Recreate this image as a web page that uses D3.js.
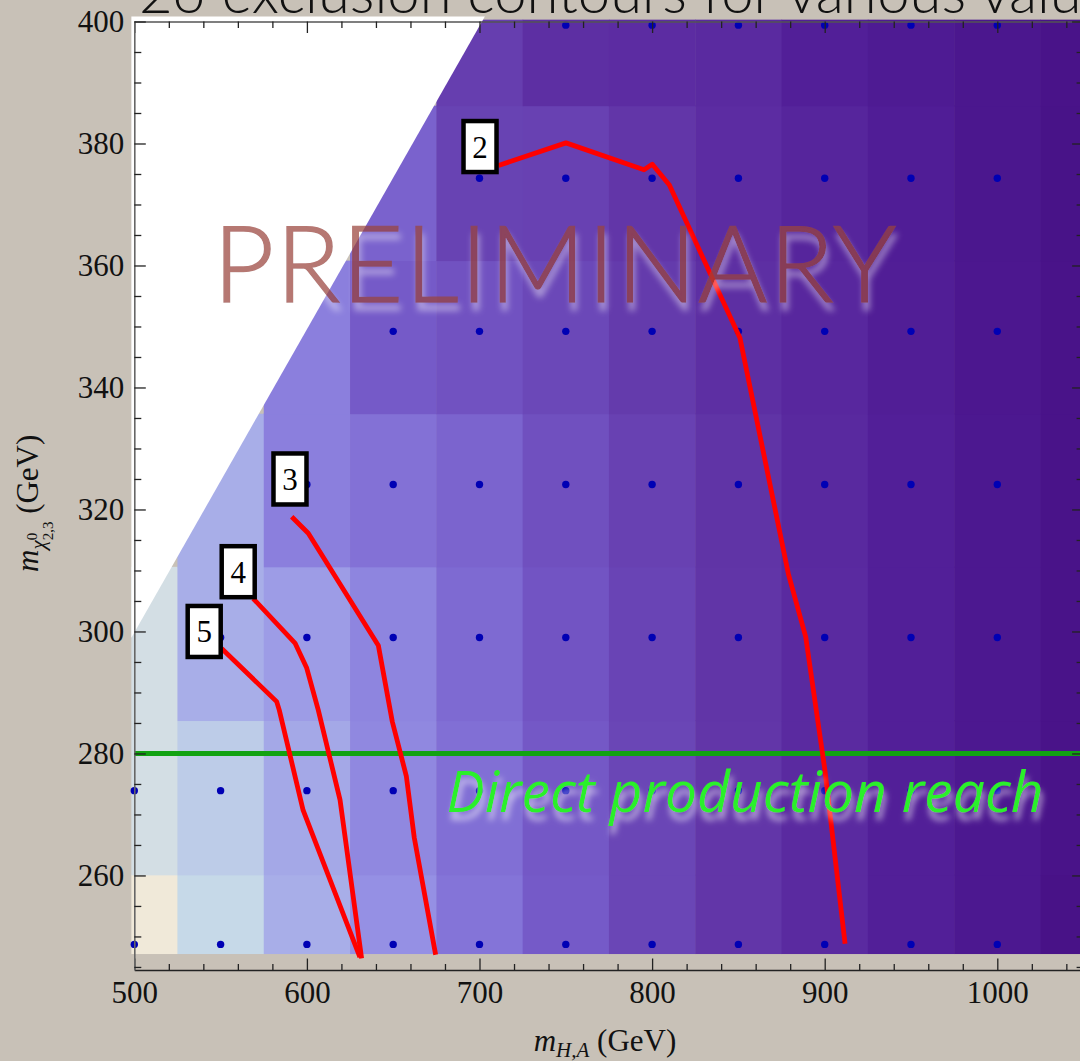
<!DOCTYPE html>
<html>
<head>
<meta charset="utf-8">
<script src="https://cdn.jsdelivr.net/npm/d3@7"></script>
<style>
  html, body { margin: 0; padding: 0; background: #c8c1b7; overflow: hidden; }
  svg { display: block; }
</style>
</head>
<body>
<svg id="chart" width="1080" height="1061"></svg>
<script>
// Heavy Higgs masses (columns) and neutralino masses (rows) of the scan grid, GeV
const mHA = [500, 550, 600, 650, 700, 750, 800, 850, 900, 950, 1000, 1050];
const mChi = [248.7, 273.9, 299.0, 324.1, 349.2, 374.3, 399.4];
// Edges of the constant-value cells around each grid point, GeV
const colEdges = [498.3, 525, 575, 625, 675, 725, 775, 825, 875, 925, 975, 1025, 1051];
const rowEdges = [247.2, 260.1, 285.4, 310.6, 335.7, 360.8, 386.2, 400.3];
// Shading level of every cell (rows bottom to top); null = outside the scan
const cellLevel = [
  [0.0, 1.0, 2.0, 3.0, 4.0, 5.0, 6.0, 7.0, 8.0, 9.0, 10.0, 11.0],
  [0.7, 1.3, 2.2, 3.3, 4.2, 5.1, 6.0, 7.0, 8.0, 9.0, 10.0, 10.8],
  [0.7, 2.0, 2.6, 3.4, 4.4, 5.3, 6.1, 7.1, 8.0, 9.0, 10.0, 10.8],
  [null, 2.0, 3.6, 4.1, 4.6, 5.5, 6.3, 7.2, 8.1, 9.0, 10.0, 10.8],
  [null, null, 3.6, 5.0, 5.4, 5.9, 6.7, 7.6, 8.3, 9.2, 10.1, 10.8],
  [null, null, null, 4.7, 6.2, 6.3, 7.0, 7.8, 8.5, 9.3, 10.2, 10.9],
  [null, null, null, null, 6.5, 7.6, 7.8, 8.0, 9.0, 9.6, 10.2, 10.8]
];
// First sampled m_H,A in each row (samples run up to 1000 GeV)
const sampleStart = [500, 500, 550, 600, 650, 700, 750];
const sampleEnd = 1000;
// Kinematic edge of the scanned region (m_H,A, m_chi)
const regionEdge = [[500.4, 300.0], [701.5, 400.0]];

// Exclusion contours, labelled by value
const contourLabels = ["2", "3", "4", "5"];
const contour2 = [[711.0, 376.4], [750.1, 380.1], [795.3, 375.7], [800.1, 376.6], [810.0, 373.2],
                  [850.9, 348.1], [878.9, 309.5], [889.0, 299.1], [900.2, 277.1], [911.8, 248.8]];
const contour3 = [[591.2, 318.8], [600.8, 316.1], [641.4, 297.7], [649.5, 285.2], [657.6, 276.3],
                  [662.2, 266.2], [674.6, 247.0]];
const contour4 = [[568.9, 305.4], [593.1, 298.1], [599.9, 294.0], [606.6, 287.1], [619.2, 272.4],
                  [631.7, 246.4]];
const contour5 = [[550.6, 297.2], [582.5, 288.5], [584.0, 287.1], [597.8, 270.7], [630.7, 246.6]];
const labelPos = [[700.3, 379.5], [590.2, 325.0], [560.2, 309.8], [540.5, 300.0]];

// Direct production reach in m_chi
const directReach = 280;

// Axis ticks
const xMajor = [500, 600, 700, 800, 900, 1000];
const xMinor = d3.range(500, 1050, 20);
const yMajor = [260, 280, 300, 320, 340, 360, 380, 400];
const yMinor = d3.range(245, 401, 5);

// Colour ramp for the shading levels
const rampColors = ["#f0e9d9", "#c6d9e8", "#a8aee8", "#9590e4", "#8474d8", "#755ac8",
                    "#6a46b6", "#6236a8", "#5a2aa0", "#521f98", "#4c1890", "#481287"];

const svg = d3.select("#chart");
const W = 1080, H = 1061;

const x = d3.scaleLinear().domain([500, 1050]).range([134.3, 1083.6]);
const y = d3.scaleLinear().domain([244.5, 400]).range([970, 21.5]);
const color = d3.scaleLinear().domain(d3.range(rampColors.length)).range(rampColors)
  .interpolate(d3.interpolateRgb);

svg.append("rect").attr("width", W).attr("height", H).attr("fill", "#c8c1b7");

// Glow below the annotation texts
const defs = svg.append("defs");
const glow = defs.append("filter").attr("id", "glow")
  .attr("x", "-5%").attr("y", "-30%").attr("width", "110%").attr("height", "170%");
glow.append("feGaussianBlur").attr("in", "SourceAlpha").attr("stdDeviation", 3).attr("result", "blur");
glow.append("feOffset").attr("in", "blur").attr("dx", 2).attr("dy", 8).attr("result", "shifted");
glow.append("feFlood").attr("flood-color", "#ffffff").attr("flood-opacity", 0.6).attr("result", "white");
glow.append("feComposite").attr("in", "white").attr("in2", "shifted").attr("operator", "in")
  .attr("result", "shadow");
const merge = glow.append("feMerge");
merge.append("feMergeNode").attr("in", "shadow");
merge.append("feMergeNode").attr("in", "SourceGraphic");

// Title (runs off the top of the page)
svg.append("text")
  .attr("x", 139).attr("y", 13)
  .attr("font-family", "Lato, 'Open Sans', sans-serif").attr("font-weight", 300)
  .attr("font-size", 58).attr("fill", "#111")
  .text("2σ exclusion contours for various values of tan β");

// Shaded cells
const cells = [];
cellLevel.forEach((row, r) => row.forEach((v, c) => {
  if (v !== null) cells.push({ r, c, v });
}));
svg.append("g").selectAll("rect").data(cells).join("rect")
  .attr("x", d => x(colEdges[d.c]))
  .attr("y", d => y(rowEdges[d.r + 1]))
  .attr("width", d => x(colEdges[d.c + 1]) - x(colEdges[d.c]) + 0.5)
  .attr("height", d => y(rowEdges[d.r]) - y(rowEdges[d.r + 1]) + 0.5)
  .attr("fill", d => color(d.v));

// Unscanned corner beyond the kinematic edge
const edgeSlope = (regionEdge[1][0] - regionEdge[0][0]) / (regionEdge[1][1] - regionEdge[0][1]);
const topY = 400.8;
const edgeTopX = regionEdge[0][0] + edgeSlope * (topY - regionEdge[0][1]);
const edgeLowY = regionEdge[0][1] - (regionEdge[0][0] - 498.3) / edgeSlope;
svg.append("path")
  .attr("d", d3.line()([[x(498.3), y(topY)], [x(edgeTopX), y(topY)],
                         [x(498.3), y(edgeLowY)]]) + "Z")
  .attr("fill", "#ffffff");

// Sampled points
const samples = [];
mChi.forEach((m, r) => mHA.forEach(h => {
  if (h >= sampleStart[r] && h <= sampleEnd) samples.push([h, m]);
}));
svg.append("g").selectAll("circle").data(samples).join("circle")
  .attr("cx", d => x(d[0])).attr("cy", d => y(d[1])).attr("r", 3.7)
  .attr("fill", "#0000b4");

// Direct production reach
svg.append("line")
  .attr("x1", x(500)).attr("x2", x(1050))
  .attr("y1", y(directReach)).attr("y2", y(directReach))
  .attr("stroke", "#12a212").attr("stroke-width", 5);

// Contours
const line = d3.line().x(d => x(d[0])).y(d => y(d[1]));
svg.append("g").selectAll("path").data([contour2, contour3, contour4, contour5]).join("path")
  .attr("d", line).attr("fill", "none").attr("stroke", "#ff0000")
  .attr("stroke-width", 4.8).attr("stroke-linejoin", "round");

// Contour labels
const lab = svg.append("g").selectAll("g").data(contourLabels).join("g")
  .attr("transform", (d, i) => `translate(${x(labelPos[i][0])},${y(labelPos[i][1])})`);
lab.append("rect").attr("x", -16.5).attr("y", -25.5).attr("width", 33).attr("height", 51)
  .attr("fill", "#fff").attr("stroke", "#000").attr("stroke-width", 4.5);
lab.append("text").attr("text-anchor", "middle").attr("y", 11)
  .attr("font-family", "'Liberation Serif', 'DejaVu Serif', serif").attr("font-size", 31)
  .attr("fill", "#000").text(d => d);

// Watermark (translucent as a whole, so the stroke does not outline the glyphs)
svg.append("g").attr("opacity", 0.72).attr("filter", "url(#glow)")
  .append("text").attr("x", 213).attr("y", 301.7)
  .attr("font-family", "Lato, 'Open Sans', sans-serif").attr("font-weight", 300).attr("font-size", 106)
  .attr("textLength", 683).attr("lengthAdjust", "spacing")
  .attr("fill", "#9a443e").attr("stroke", "#9a443e").attr("stroke-width", 1.5)
  .text("PRELIMINARY");

// Direct production label
svg.append("text").attr("x", 446.6).attr("y", 811.7)
  .attr("font-family", "'Open Sans', Lato, sans-serif").attr("font-style", "italic")
  .attr("font-size", 57).attr("textLength", 597).attr("lengthAdjust", "spacingAndGlyphs")
  .attr("fill", "#2bf02b").attr("filter", "url(#glow)")
  .text("Direct production reach");

// Frame and ticks (ticks point inwards on all four sides)
const tickFont = "'Liberation Serif', 'Times New Roman', serif";
function styleAxis(g, stroke) {
  g.selectAll(".tick line").attr("stroke", "#222").attr("stroke-width", 1.3);
  g.select(".domain").attr("stroke", stroke).attr("stroke-width", 1.6);
  g.selectAll("text").attr("font-family", tickFont).attr("font-size", 31).attr("fill", "#111");
}
const gBottom = svg.append("g").attr("transform", `translate(0,${y(244.5)})`)
  .call(d3.axisBottom(x).tickValues(xMajor).tickSizeInner(-11.5).tickSizeOuter(0).tickPadding(11)
    .tickFormat(d3.format("d")));
styleAxis(gBottom, "#222");
const gBottomMinor = svg.append("g").attr("transform", `translate(0,${y(244.5)})`)
  .call(d3.axisBottom(x).tickValues(xMinor.filter(v => !xMajor.includes(v))).tickSizeInner(-6)
    .tickSizeOuter(0).tickFormat(""));
styleAxis(gBottomMinor, "none");

const gTop = svg.append("g").attr("transform", `translate(0,${y(400)})`)
  .call(d3.axisTop(x).tickValues(xMajor).tickSizeInner(-11.5).tickSizeOuter(0).tickFormat(""));
styleAxis(gTop, "#555");
const gTopMinor = svg.append("g").attr("transform", `translate(0,${y(400)})`)
  .call(d3.axisTop(x).tickValues(xMinor.filter(v => !xMajor.includes(v))).tickSizeInner(-6.5)
    .tickSizeOuter(0).tickFormat(""));
styleAxis(gTopMinor, "none");

const gLeft = svg.append("g").attr("transform", `translate(${x(500)},0)`)
  .call(d3.axisLeft(y).tickValues(yMajor).tickSizeInner(-11.5).tickSizeOuter(0).tickPadding(10)
    .tickFormat(d3.format("d")));
styleAxis(gLeft, "#666");
const gLeftMinor = svg.append("g").attr("transform", `translate(${x(500)},0)`)
  .call(d3.axisLeft(y).tickValues(yMinor.filter(v => !yMajor.includes(v))).tickSizeInner(-7)
    .tickSizeOuter(0).tickFormat(""));
styleAxis(gLeftMinor, "none");

const gRight = svg.append("g").attr("transform", `translate(${x(1050)},0)`)
  .call(d3.axisRight(y).tickValues(yMajor).tickSizeInner(-11.5).tickSizeOuter(0).tickFormat(""));
styleAxis(gRight, "#444");
const gRightMinor = svg.append("g").attr("transform", `translate(${x(1050)},0)`)
  .call(d3.axisRight(y).tickValues(yMinor.filter(v => !yMajor.includes(v))).tickSizeInner(-7)
    .tickSizeOuter(0).tickFormat(""));
styleAxis(gRightMinor, "none");

// Axis titles
const xt = svg.append("text").attr("x", 533.7).attr("y", 1050.5)
  .attr("font-family", tickFont).attr("font-size", 31).attr("fill", "#111");
xt.append("tspan").attr("font-style", "italic").text("m");
xt.append("tspan").attr("font-style", "italic").attr("font-size", 21).attr("dy", 6).text("H,A");
xt.append("tspan").attr("dy", -6).text(" (GeV)");

const yt = svg.append("text").attr("transform", "translate(38,572) rotate(-90)")
  .attr("font-family", tickFont).attr("font-size", 31).attr("fill", "#111");
yt.append("tspan").attr("font-style", "italic").text("m");
yt.append("tspan").attr("font-style", "italic").attr("font-size", 21).attr("dy", 7).text("χ");
yt.append("tspan").attr("font-size", 15).attr("dy", -8).text("0");
yt.append("tspan").attr("font-size", 15).attr("dy", 16).attr("dx", -7.5).text("2,3");
yt.append("tspan").attr("dy", -15).text(" (GeV)");
</script>
</body>
</html>
